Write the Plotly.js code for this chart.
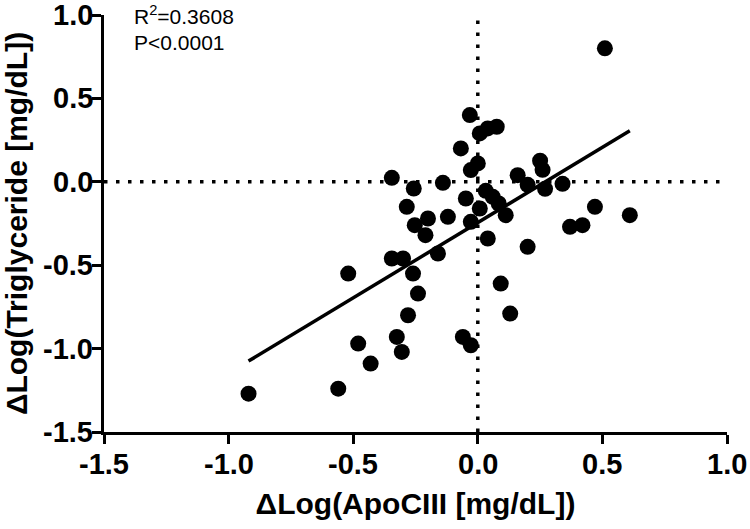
<!DOCTYPE html>
<html>
<head>
<meta charset="utf-8">
<script src="https://cdn.plot.ly/plotly-3.0.1.min.js"></script>
<style>
  body { margin: 0; background: #ffffff; }
  #graphique { width: 750px; height: 529px; }
</style>
</head>
<body>
<div id="graphique"></div>
<script>
// Points : ΔLog(ApoCIII) et ΔLog(Triglyceride)
let delta_apoc3 = [
    0.51, -0.032, 0.008, 0.040, 0.076, -0.068, 0.0, -0.028, -0.345, -0.257,
    -0.285, -0.14, -0.20, -0.253, -0.12, -0.048, 0.032, 0.060, 0.008, -0.028,
    0.112, 0.084, 0.16, 0.20, 0.25, 0.26, 0.27, 0.34, 0.47, 0.61,
    0.37, 0.42, 0.20, 0.092, 0.13, -0.06, -0.028, 0.04, -0.21, -0.16,
    -0.345, -0.30, -0.26, -0.24, -0.28, -0.325, -0.305, -0.52, -0.48, -0.43,
    -0.56, -0.92
]
let delta_tg = [
    0.80, 0.40, 0.29, 0.32, 0.33, 0.20, 0.11, 0.07, 0.024, -0.04,
    -0.15, -0.006, -0.22, -0.26, -0.21, -0.10, -0.054, -0.09, -0.16, -0.24,
    -0.20, -0.13, 0.04, -0.018, 0.126, 0.072, -0.042, -0.012, -0.15, -0.20,
    -0.27, -0.26, -0.39, -0.61, -0.79, -0.93, -0.98, -0.34, -0.32, -0.43,
    -0.46, -0.46, -0.55, -0.67, -0.80, -0.93, -1.02, -0.55, -0.97, -1.09,
    -1.24, -1.27
]

// Droite de régression (extrémités)
let droite_x = [-0.92, 0.61]
let droite_y = [-1.075, 0.306]

let ticks = [-1.5, -1.0, -0.5, 0.0, 0.5, 1.0]
let ticks_texte = ["-1.5", "-1.0", "-0.5", "0.0", "0.5", "1.0"]

let texte_r2 = "R<sup>2</sup>=0.3608"
let texte_p = "P<0.0001"

let police = "Liberation Sans, Arial, sans-serif"
let police_graduation = {family: police, size: 29, color: "#000000", weight: "bold"}

let donnee = [
    {
        x: delta_apoc3,
        y: delta_tg,
        type: "scatter",
        mode: "markers",
        marker: {color: "#000000", size: 16},
        hoverinfo: "skip"
    },
    {
        x: droite_x,
        y: droite_y,
        type: "scatter",
        mode: "lines",
        line: {color: "#000000", width: 3.5},
        hoverinfo: "skip"
    }
]

// Les étiquettes des graduations ne sortaient pas en gras (et le 1.0 vertical disparaissait),
// on les pose donc en annotations, calées sur les mêmes valeurs que les tirets
let axe_commun = {
    range: [-1.5, 1.0],
    tickmode: "array",
    tickvals: ticks,
    showticklabels: false,
    showgrid: false,
    zeroline: false,
    showline: true,
    linecolor: "#000000",
    linewidth: 3,
    ticks: "outside",
    ticklen: 9,
    tickwidth: 3,
    tickcolor: "#000000"
}

let etiquettes = []
for (let index = 0; index < ticks.length; index = index + 1) {
    etiquettes.push({
        xref: "x", yref: "paper", x: ticks[index], y: 0,
        xanchor: "center", yanchor: "middle", yshift: -32,
        text: ticks_texte[index], showarrow: false,
        font: police_graduation
    })
    etiquettes.push({
        xref: "paper", yref: "y", x: 0, y: ticks[index],
        xanchor: "right", yanchor: "middle", xshift: -9,
        text: ticks_texte[index], showarrow: false,
        font: police_graduation
    })
}

let apparence = {
    width: 750,
    height: 529,
    margin: {l: 104, r: 23, t: 15, b: 97},
    paper_bgcolor: "#ffffff",
    plot_bgcolor: "#ffffff",
    showlegend: false,
    xaxis: Object.assign({}, axe_commun, {
        title: {
            text: "<b>ΔLog(ApoCIII [mg/dL])</b>",
            font: {family: police, size: 30, color: "#000000"},
            standoff: 50
        }
    }),
    yaxis: Object.assign({}, axe_commun, {
        title: {
            text: "<b>ΔLog(Triglyceride [mg/dL])</b>",
            font: {family: police, size: 30, color: "#000000"},
            standoff: 64
        }
    }),
    shapes: [
        {
            type: "line", xref: "x", yref: "y",
            x0: 0, x1: 0, y0: -1.5, y1: 1.0,
            line: {color: "#000000", width: 3.5, dash: "3.5px,8.5px"},
            layer: "below"
        },
        {
            type: "line", xref: "x", yref: "y",
            x0: -1.5, x1: 1.0, y0: 0, y1: 0,
            line: {color: "#000000", width: 3.5, dash: "3.5px,8.5px"},
            layer: "below"
        }
    ],
    annotations: etiquettes.concat([
        {
            xref: "paper", yref: "paper", x: 0.045, y: 1.0,
            xanchor: "left", yanchor: "middle",
            text: texte_r2, showarrow: false,
            font: {family: police, size: 21, color: "#000000"}
        },
        {
            xref: "paper", yref: "paper", x: 0.045, y: 0.934,
            xanchor: "left", yanchor: "middle",
            text: texte_p, showarrow: false,
            font: {family: police, size: 21, color: "#000000"}
        }
    ])
}

Plotly.newPlot("graphique", donnee, apparence, {staticPlot: true})
</script>
</body>
</html>
